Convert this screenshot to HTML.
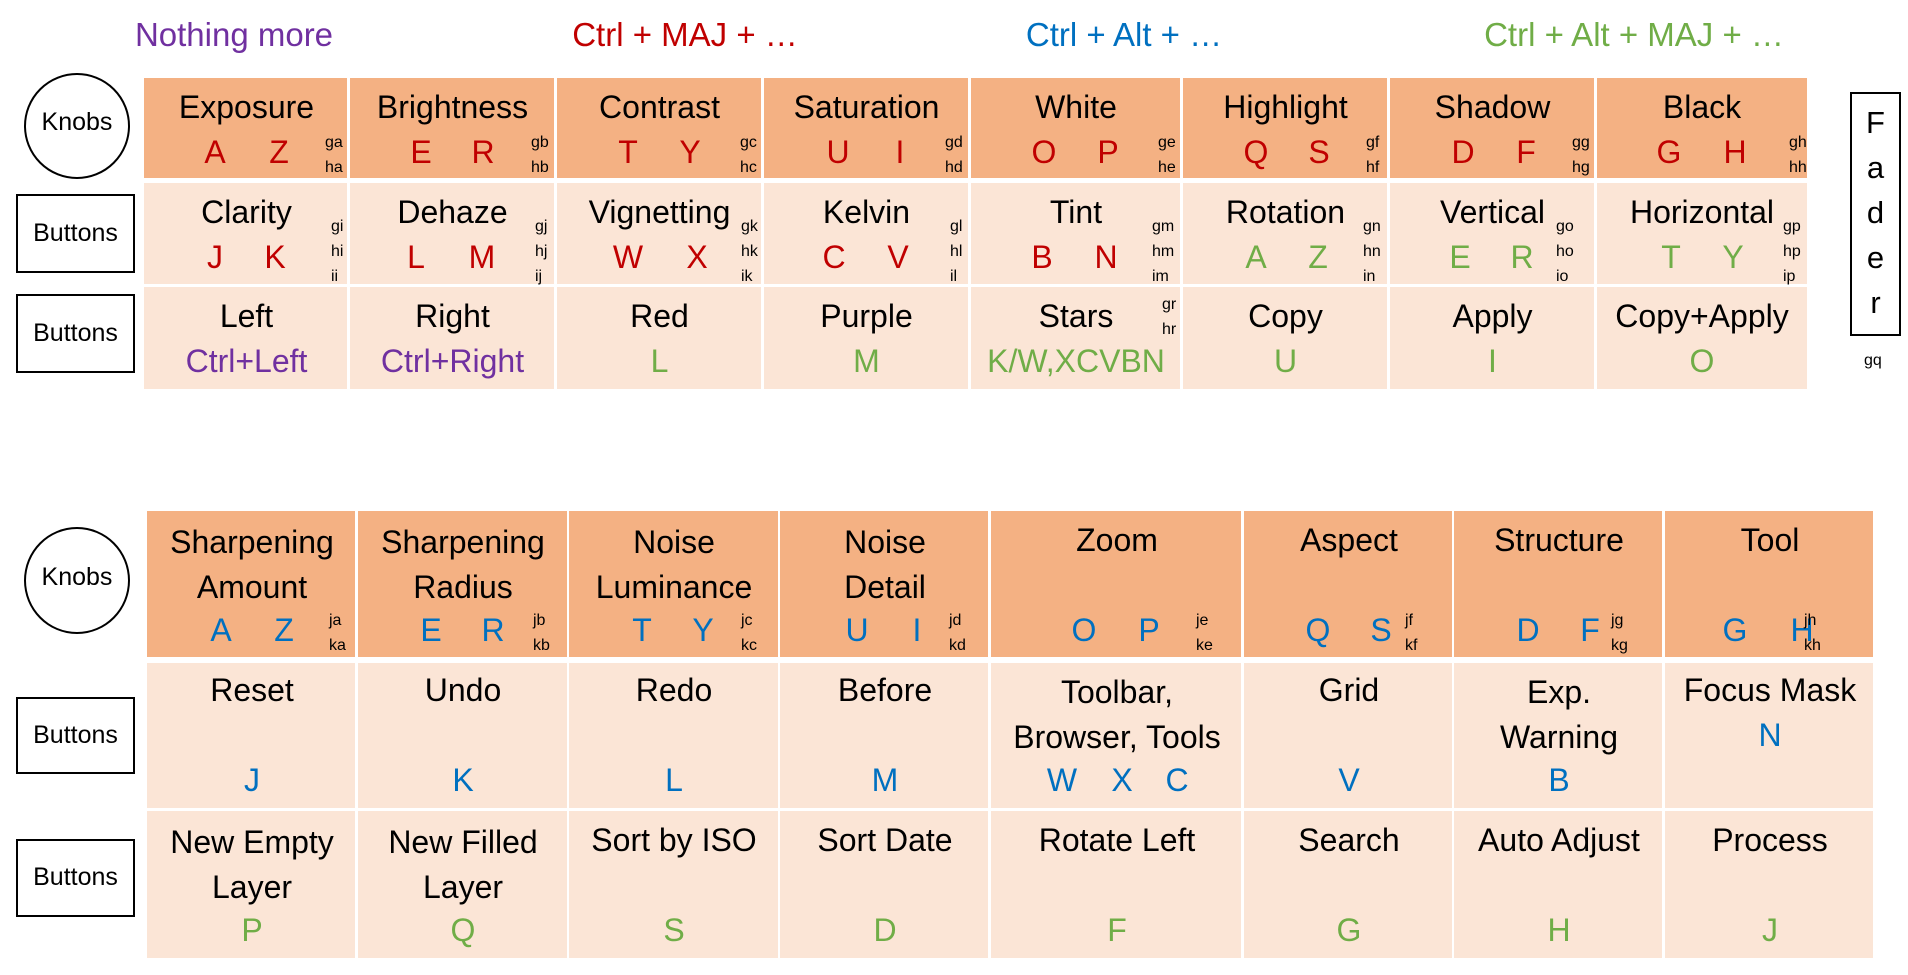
<!DOCTYPE html>
<html><head><meta charset="utf-8">
<style>
*{margin:0;padding:0;box-sizing:border-box}
body{width:1908px;height:975px;background:#fff;position:relative;overflow:hidden;font-family:"Liberation Sans",sans-serif;color:#000}
div{position:absolute}
.d{background:#F4B183}
.l{background:#FBE5D6}
.t{text-align:center;font-size:32px;line-height:40px;height:40px;white-space:nowrap}
.k{text-align:center;font-size:32px;line-height:40px;height:40px;width:60px;white-space:nowrap}
.s{font-size:16px;line-height:25px;white-space:nowrap}
.h{font-size:33px;line-height:40px;height:40px;text-align:center;width:500px;white-space:nowrap;top:15px}
.r{color:#C00000}.b{color:#0070C0}.g{color:#70AD47}.p{color:#7030A0}
.lab{font-size:25px;line-height:30px;text-align:center;white-space:nowrap}
</style></head><body>
<!-- headers -->
<div class="h p" style="left:-16px">Nothing more</div>
<div class="h r" style="left:435px">Ctrl + MAJ + …</div>
<div class="h b" style="left:874px">Ctrl + Alt + …</div>
<div class="h g" style="left:1384px">Ctrl + Alt + MAJ + …</div>

<!-- left labels top -->
<div style="left:24px;top:73px;width:106px;height:106px;border:2.5px solid #000;border-radius:50%"></div>
<div class="lab" style="left:24px;width:106px;top:107px">Knobs</div>
<div style="left:16px;top:194px;width:119px;height:79px;border:2.5px solid #000"></div>
<div class="lab" style="left:16px;width:119px;top:218px">Buttons</div>
<div style="left:16px;top:294px;width:119px;height:79px;border:2.5px solid #000"></div>
<div class="lab" style="left:16px;width:119px;top:318px">Buttons</div>
<!-- fader -->
<div style="left:1850px;top:92px;width:51px;height:244px;border:2.5px solid #000"></div>
<div style="left:1850px;top:100px;width:51px;text-align:center;font-size:31px;line-height:45px">F<br>a<br>d<br>e<br>r</div>
<div class="s" style="left:1864px;top:348px">gq</div>

<!-- top table cells -->
<div class="d" style="left:144px;top:78px;width:203px;height:100px"></div>
<div class="d" style="left:350px;top:78px;width:204px;height:100px"></div>
<div class="d" style="left:557px;top:78px;width:204px;height:100px"></div>
<div class="d" style="left:764px;top:78px;width:204px;height:100px"></div>
<div class="d" style="left:971px;top:78px;width:209px;height:100px"></div>
<div class="d" style="left:1183px;top:78px;width:204px;height:100px"></div>
<div class="d" style="left:1390px;top:78px;width:204px;height:100px"></div>
<div class="d" style="left:1597px;top:78px;width:210px;height:100px"></div>

<div class="l" style="left:144px;top:183px;width:203px;height:101px"></div>
<div class="l" style="left:350px;top:183px;width:204px;height:101px"></div>
<div class="l" style="left:557px;top:183px;width:204px;height:101px"></div>
<div class="l" style="left:764px;top:183px;width:204px;height:101px"></div>
<div class="l" style="left:971px;top:183px;width:209px;height:101px"></div>
<div class="l" style="left:1183px;top:183px;width:204px;height:101px"></div>
<div class="l" style="left:1390px;top:183px;width:204px;height:101px"></div>
<div class="l" style="left:1597px;top:183px;width:210px;height:101px"></div>

<div class="l" style="left:144px;top:287px;width:203px;height:102px"></div>
<div class="l" style="left:350px;top:287px;width:204px;height:102px"></div>
<div class="l" style="left:557px;top:287px;width:204px;height:102px"></div>
<div class="l" style="left:764px;top:287px;width:204px;height:102px"></div>
<div class="l" style="left:971px;top:287px;width:209px;height:102px"></div>
<div class="l" style="left:1183px;top:287px;width:204px;height:102px"></div>
<div class="l" style="left:1390px;top:287px;width:204px;height:102px"></div>
<div class="l" style="left:1597px;top:287px;width:210px;height:102px"></div>

<!-- top row1 -->
<div class="t" style="left:144px;width:205px;top:87px">Exposure</div>
<div class="t" style="left:350px;width:205px;top:87px">Brightness</div>
<div class="t" style="left:557px;width:205px;top:87px">Contrast</div>
<div class="t" style="left:764px;width:205px;top:87px">Saturation</div>
<div class="t" style="left:971px;width:210px;top:87px">White</div>
<div class="t" style="left:1183px;width:205px;top:87px">Highlight</div>
<div class="t" style="left:1390px;width:205px;top:87px">Shadow</div>
<div class="t" style="left:1597px;width:210px;top:87px">Black</div>
<div class="k r" style="left:185px;top:132px">A</div><div class="k r" style="left:249px;top:132px">Z</div>
<div class="k r" style="left:391px;top:132px">E</div><div class="k r" style="left:453px;top:132px">R</div>
<div class="k r" style="left:598px;top:132px">T</div><div class="k r" style="left:660px;top:132px">Y</div>
<div class="k r" style="left:808px;top:132px">U</div><div class="k r" style="left:870px;top:132px">I</div>
<div class="k r" style="left:1014px;top:132px">O</div><div class="k r" style="left:1078px;top:132px">P</div>
<div class="k r" style="left:1226px;top:132px">Q</div><div class="k r" style="left:1289px;top:132px">S</div>
<div class="k r" style="left:1433px;top:132px">D</div><div class="k r" style="left:1496px;top:132px">F</div>
<div class="k r" style="left:1639px;top:132px">G</div><div class="k r" style="left:1705px;top:132px">H</div>
<div class="s" style="left:325px;top:130px">ga<br>ha</div>
<div class="s" style="left:531px;top:130px">gb<br>hb</div>
<div class="s" style="left:740px;top:130px">gc<br>hc</div>
<div class="s" style="left:945px;top:130px">gd<br>hd</div>
<div class="s" style="left:1158px;top:130px">ge<br>he</div>
<div class="s" style="left:1366px;top:130px">gf<br>hf</div>
<div class="s" style="left:1572px;top:130px">gg<br>hg</div>
<div class="s" style="left:1789px;top:130px">gh<br>hh</div>

<!-- top row2 -->
<div class="t" style="left:144px;width:205px;top:192px">Clarity</div>
<div class="t" style="left:350px;width:205px;top:192px">Dehaze</div>
<div class="t" style="left:557px;width:205px;top:192px">Vignetting</div>
<div class="t" style="left:764px;width:205px;top:192px">Kelvin</div>
<div class="t" style="left:971px;width:210px;top:192px">Tint</div>
<div class="t" style="left:1183px;width:205px;top:192px">Rotation</div>
<div class="t" style="left:1390px;width:205px;top:192px">Vertical</div>
<div class="t" style="left:1597px;width:210px;top:192px">Horizontal</div>
<div class="k r" style="left:185px;top:237px">J</div><div class="k r" style="left:245px;top:237px">K</div>
<div class="k r" style="left:386px;top:237px">L</div><div class="k r" style="left:452px;top:237px">M</div>
<div class="k r" style="left:598px;top:237px">W</div><div class="k r" style="left:667px;top:237px">X</div>
<div class="k r" style="left:804px;top:237px">C</div><div class="k r" style="left:868px;top:237px">V</div>
<div class="k r" style="left:1012px;top:237px">B</div><div class="k r" style="left:1076px;top:237px">N</div>
<div class="k g" style="left:1226px;top:237px">A</div><div class="k g" style="left:1288px;top:237px">Z</div>
<div class="k g" style="left:1430px;top:237px">E</div><div class="k g" style="left:1492px;top:237px">R</div>
<div class="k g" style="left:1641px;top:237px">T</div><div class="k g" style="left:1703px;top:237px">Y</div>
<div class="s" style="left:331px;top:214px">gi<br>hi<br>ii</div>
<div class="s" style="left:535px;top:214px">gj<br>hj<br>ij</div>
<div class="s" style="left:741px;top:214px">gk<br>hk<br>ik</div>
<div class="s" style="left:950px;top:214px">gl<br>hl<br>il</div>
<div class="s" style="left:1152px;top:214px">gm<br>hm<br>im</div>
<div class="s" style="left:1363px;top:214px">gn<br>hn<br>in</div>
<div class="s" style="left:1556px;top:214px">go<br>ho<br>io</div>
<div class="s" style="left:1783px;top:214px">gp<br>hp<br>ip</div>

<!-- top row3 -->
<div class="t" style="left:144px;width:205px;top:296px">Left</div>
<div class="t" style="left:350px;width:205px;top:296px">Right</div>
<div class="t" style="left:557px;width:205px;top:296px">Red</div>
<div class="t" style="left:764px;width:205px;top:296px">Purple</div>
<div class="t" style="left:971px;width:210px;top:296px">Stars</div>
<div class="t" style="left:1183px;width:205px;top:296px">Copy</div>
<div class="t" style="left:1390px;width:205px;top:296px">Apply</div>
<div class="t" style="left:1597px;width:210px;top:296px">Copy+Apply</div>
<div class="t p" style="left:144px;width:205px;top:341px">Ctrl+Left</div>
<div class="t p" style="left:350px;width:205px;top:341px">Ctrl+Right</div>
<div class="t g" style="left:557px;width:205px;top:341px">L</div>
<div class="t g" style="left:764px;width:205px;top:341px">M</div>
<div class="t g" style="left:971px;width:210px;top:341px">K/W,XCVBN</div>
<div class="t g" style="left:1183px;width:205px;top:341px">U</div>
<div class="t g" style="left:1390px;width:205px;top:341px">I</div>
<div class="t g" style="left:1597px;width:210px;top:341px">O</div>
<div class="s" style="left:1162px;top:292px">gr<br>hr</div>

<!-- left labels bottom -->
<div style="left:24px;top:527px;width:106px;height:107px;border:2.5px solid #000;border-radius:50%"></div>
<div class="lab" style="left:24px;width:106px;top:562px">Knobs</div>
<div style="left:16px;top:697px;width:119px;height:77px;border:2.5px solid #000"></div>
<div class="lab" style="left:16px;width:119px;top:720px">Buttons</div>
<div style="left:16px;top:839px;width:119px;height:78px;border:2.5px solid #000"></div>
<div class="lab" style="left:16px;width:119px;top:862px">Buttons</div>

<!-- bottom table cells -->
<div class="d" style="left:147px;top:511px;width:208px;height:146px"></div>
<div class="d" style="left:358px;top:511px;width:209px;height:146px"></div>
<div class="d" style="left:569px;top:511px;width:209px;height:146px"></div>
<div class="d" style="left:780px;top:511px;width:208px;height:146px"></div>
<div class="d" style="left:991px;top:511px;width:250px;height:146px"></div>
<div class="d" style="left:1244px;top:511px;width:208px;height:146px"></div>
<div class="d" style="left:1454px;top:511px;width:208px;height:146px"></div>
<div class="d" style="left:1665px;top:511px;width:208px;height:146px"></div>

<div class="l" style="left:147px;top:663px;width:208px;height:145px"></div>
<div class="l" style="left:358px;top:663px;width:209px;height:145px"></div>
<div class="l" style="left:569px;top:663px;width:209px;height:145px"></div>
<div class="l" style="left:780px;top:663px;width:208px;height:145px"></div>
<div class="l" style="left:991px;top:663px;width:250px;height:145px"></div>
<div class="l" style="left:1244px;top:663px;width:208px;height:145px"></div>
<div class="l" style="left:1454px;top:663px;width:208px;height:145px"></div>
<div class="l" style="left:1665px;top:663px;width:208px;height:145px"></div>

<div class="l" style="left:147px;top:811px;width:208px;height:147px"></div>
<div class="l" style="left:358px;top:811px;width:209px;height:147px"></div>
<div class="l" style="left:569px;top:811px;width:209px;height:147px"></div>
<div class="l" style="left:780px;top:811px;width:208px;height:147px"></div>
<div class="l" style="left:991px;top:811px;width:250px;height:147px"></div>
<div class="l" style="left:1244px;top:811px;width:208px;height:147px"></div>
<div class="l" style="left:1454px;top:811px;width:208px;height:147px"></div>
<div class="l" style="left:1665px;top:811px;width:208px;height:147px"></div>

<!-- bottom row1 -->
<div class="t" style="left:147px;width:210px;top:520px;height:85px;line-height:45px">Sharpening<br>Amount</div>
<div class="t" style="left:358px;width:210px;top:520px;height:85px;line-height:45px">Sharpening<br>Radius</div>
<div class="t" style="left:569px;width:210px;top:520px;height:85px;line-height:45px">Noise<br>Luminance</div>
<div class="t" style="left:780px;width:210px;top:520px;height:85px;line-height:45px">Noise<br>Detail</div>
<div class="t" style="left:991px;width:252px;top:520px">Zoom</div>
<div class="t" style="left:1244px;width:210px;top:520px">Aspect</div>
<div class="t" style="left:1454px;width:210px;top:520px">Structure</div>
<div class="t" style="left:1665px;width:210px;top:520px">Tool</div>
<div class="k b" style="left:191px;top:610px">A</div><div class="k b" style="left:254px;top:610px">Z</div>
<div class="k b" style="left:401px;top:610px">E</div><div class="k b" style="left:463px;top:610px">R</div>
<div class="k b" style="left:612px;top:610px">T</div><div class="k b" style="left:673px;top:610px">Y</div>
<div class="k b" style="left:827px;top:610px">U</div><div class="k b" style="left:887px;top:610px">I</div>
<div class="k b" style="left:1054px;top:610px">O</div><div class="k b" style="left:1119px;top:610px">P</div>
<div class="k b" style="left:1288px;top:610px">Q</div><div class="k b" style="left:1351px;top:610px">S</div>
<div class="k b" style="left:1498px;top:610px">D</div><div class="k b" style="left:1560px;top:610px">F</div>
<div class="k b" style="left:1705px;top:610px">G</div><div class="k b" style="left:1772px;top:610px">H</div>
<div class="s" style="left:329px;top:608px">ja<br>ka</div>
<div class="s" style="left:533px;top:608px">jb<br>kb</div>
<div class="s" style="left:741px;top:608px">jc<br>kc</div>
<div class="s" style="left:949px;top:608px">jd<br>kd</div>
<div class="s" style="left:1196px;top:608px">je<br>ke</div>
<div class="s" style="left:1405px;top:608px">jf<br>kf</div>
<div class="s" style="left:1611px;top:608px">jg<br>kg</div>
<div class="s" style="left:1804px;top:608px">jh<br>kh</div>

<!-- bottom row2 -->
<div class="t" style="left:147px;width:210px;top:670px">Reset</div>
<div class="t" style="left:358px;width:210px;top:670px">Undo</div>
<div class="t" style="left:569px;width:210px;top:670px">Redo</div>
<div class="t" style="left:780px;width:210px;top:670px">Before</div>
<div class="t" style="left:991px;width:252px;top:670px;height:85px;line-height:45px">Toolbar,<br>Browser, Tools</div>
<div class="t" style="left:1244px;width:210px;top:670px">Grid</div>
<div class="t" style="left:1454px;width:210px;top:670px;height:85px;line-height:45px">Exp.<br>Warning</div>
<div class="t" style="left:1665px;width:210px;top:670px">Focus Mask</div>
<div class="t b" style="left:147px;width:210px;top:760px">J</div>
<div class="t b" style="left:358px;width:210px;top:760px">K</div>
<div class="t b" style="left:569px;width:210px;top:760px">L</div>
<div class="t b" style="left:780px;width:210px;top:760px">M</div>
<div class="k b" style="left:1032px;top:760px">W</div><div class="k b" style="left:1092px;top:760px">X</div><div class="k b" style="left:1147px;top:760px">C</div>
<div class="t b" style="left:1244px;width:210px;top:760px">V</div>
<div class="t b" style="left:1454px;width:210px;top:760px">B</div>
<div class="t b" style="left:1665px;width:210px;top:715px">N</div>

<!-- bottom row3 -->
<div class="t" style="left:147px;width:210px;top:820px;height:85px;line-height:45px">New Empty<br>Layer</div>
<div class="t" style="left:358px;width:210px;top:820px;height:85px;line-height:45px">New Filled<br>Layer</div>
<div class="t" style="left:569px;width:210px;top:820px">Sort by ISO</div>
<div class="t" style="left:780px;width:210px;top:820px">Sort Date</div>
<div class="t" style="left:991px;width:252px;top:820px">Rotate Left</div>
<div class="t" style="left:1244px;width:210px;top:820px">Search</div>
<div class="t" style="left:1454px;width:210px;top:820px">Auto Adjust</div>
<div class="t" style="left:1665px;width:210px;top:820px">Process</div>
<div class="t g" style="left:147px;width:210px;top:910px">P</div>
<div class="t g" style="left:358px;width:210px;top:910px">Q</div>
<div class="t g" style="left:569px;width:210px;top:910px">S</div>
<div class="t g" style="left:780px;width:210px;top:910px">D</div>
<div class="t g" style="left:991px;width:252px;top:910px">F</div>
<div class="t g" style="left:1244px;width:210px;top:910px">G</div>
<div class="t g" style="left:1454px;width:210px;top:910px">H</div>
<div class="t g" style="left:1665px;width:210px;top:910px">J</div>
</body></html>
